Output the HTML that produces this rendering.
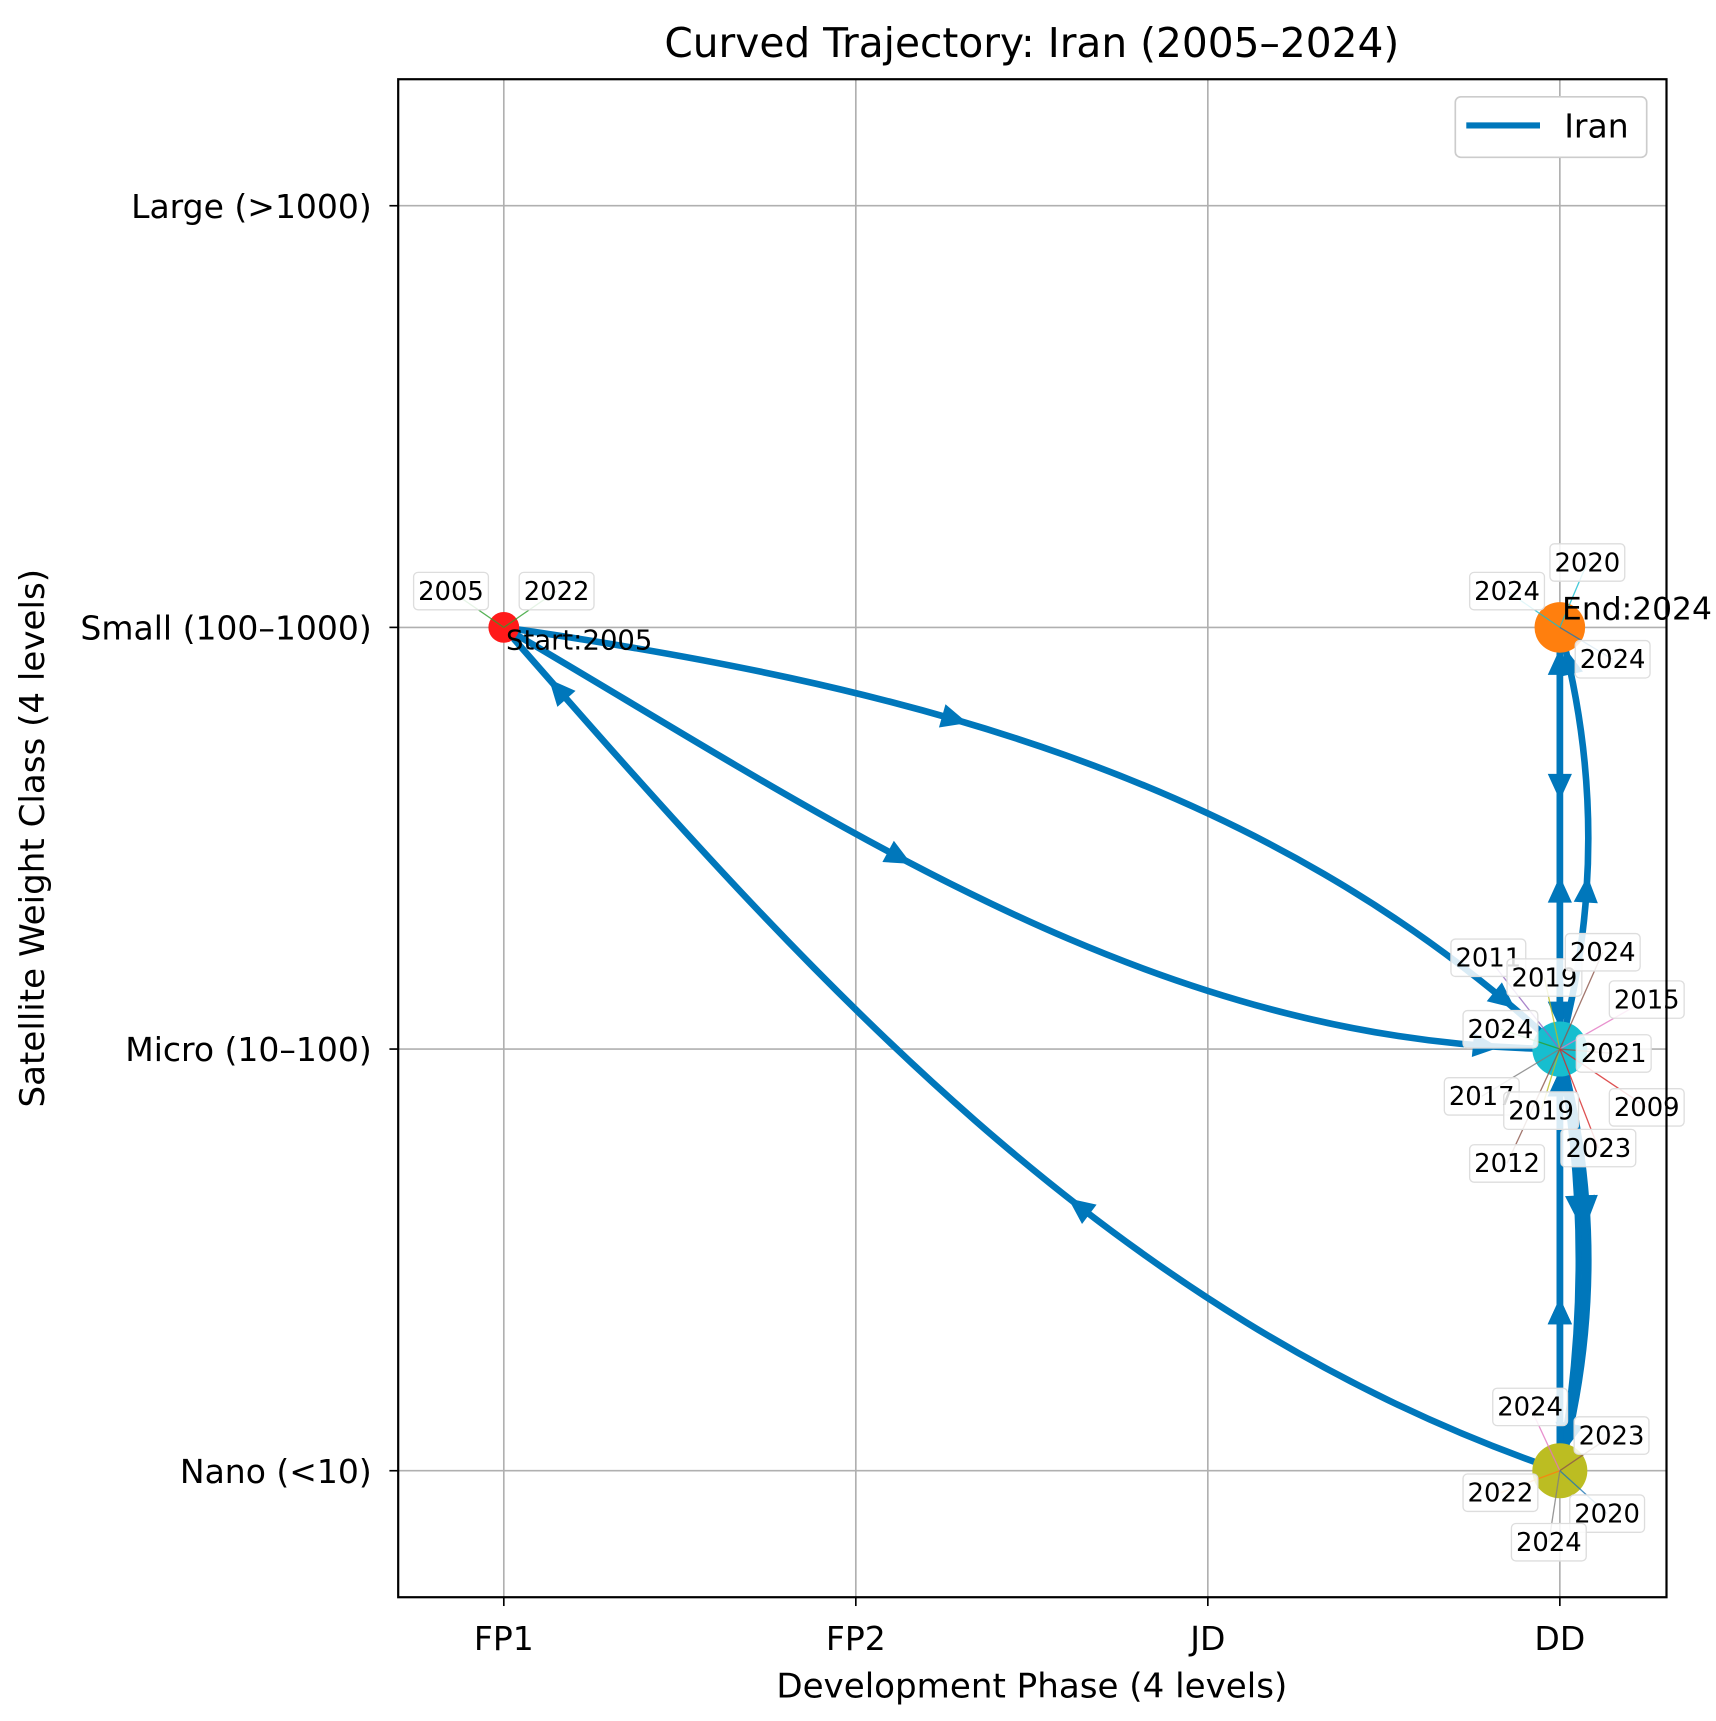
<!DOCTYPE html>
<html><head><meta charset="utf-8"><style>
html,body{margin:0;padding:0;background:#fff;}
svg{display:block;font-family:"DejaVu Sans","Liberation Sans",sans-serif;}
</style></head><body>
<svg id="chart" width="1716" height="1721" viewBox="0 0 1560 1564.5" xmlns="http://www.w3.org/2000/svg">
<rect width="1560" height="1564.5" fill="#fff"/>
<text x="938" y="52" font-size="37" text-anchor="middle">Curved Trajectory: Iran (2005–2024)</text>
<g id="grid"></g>
<g id="ticks"></g>
<g id="series"></g>
<g id="labels"></g>
<rect x="362" y="72" width="1153" height="1380" fill="none" stroke="#000" stroke-width="2"/>
<text x="938" y="1543" font-size="31" text-anchor="middle">Development Phase (4 levels)</text>
<text transform="translate(40,762) rotate(-90)" font-size="31" text-anchor="middle">Satellite Weight Class (4 levels)</text>
<g>
<rect x="1323" y="88" width="174" height="55" rx="5" fill="#fff" stroke="#ccc" stroke-width="1.5"/>
<line x1="1333" y1="114" x2="1400" y2="114" stroke="#0077bb" stroke-width="5.5"/>
<text x="1422" y="125" font-size="30">Iran</text>
</g>
</svg>
<script>
const xCategories = ["FP1","FP2","JD","DD"];
const yCategories = ["Nano (<10)","Micro (10–100)","Small (100–1000)","Large (>1000)"];
const years  = [2005,2009,2011,2012,2015,2017,2019,2020,2021,2022,2023,2023,2024,2024];
const phases = [0,3,3,3,3,3,3,3,3,0,3,3,3,3];
const weights= [2,1,2,1,0,1,0,1,0,2,1,0,1,2];
const bendStart= [0.08,-0.09,0,0.09,0,0.08,0,0.06,0.12,-0.05,0.08,0,0];
const bendEnd  = [0.13,-0.09,0,0.09,0,0.08,0,0.06,0.06,-0.13,0.08,0,0];
const annoText = ["2005","2022","2024","2020","2024","2011","2019","2024","2015","2024","2021","2017","2019","2009","2023","2012","2024","2023","2022","2020","2024"];
const annoPhase= [0,0,3,3,3,3,3,3,3,3,3,3,3,3,3,3,3,3,3,3,3];
const annoWeight=[2,2,2,2,2,1,1,1,1,1,1,1,1,1,1,1,0,0,0,0,0];
const annoDx = [-48,48,-48,25,48,-65,-14,39,79,-54,49,-71,-17,79,35,-48,-27,47,-54,43,-10];
const annoDy = [-33,-33,-33,-59,29,-83,-65,-88,-45,-18,4,43,56,53,90,104,-58,-32,20,39,65];
const annoColor=["#2ca02c","#2ca02c","#17becf","#17becf","#1f77b4","#9467bd","#bcbd22","#8c564b","#e377c2","#2ca02c","#8c564b","#7f7f7f","#bcbd22","#d62728","#d62728","#8c564b","#e377c2","#8c564b","#ff7f0e","#1f77b4","#7f7f7f"];

const NS="http://www.w3.org/2000/svg";
const X0=362,X1=1515,Y0=1452,Y1=72;
const xmin=-0.3,xmax=3.303,ymin=-0.3,ymax=3.3;
function X(v){return X0+(v-xmin)/(xmax-xmin)*(X1-X0);}
function Y(v){return Y0-(v-ymin)/(ymax-ymin)*(Y0-Y1);}
function mk(tag,attrs,parent){const e=document.createElementNS(NS,tag);for(const k in attrs)e.setAttribute(k,attrs[k]);parent.appendChild(e);return e;}
const grid=document.getElementById('grid'),ticks=document.getElementById('ticks');
xCategories.forEach((c,i)=>{
  const g=mk('line',{x1:X(i),x2:X(i),y1:Y1,y2:Y0,stroke:'#b0b0b0','stroke-width':1.5},grid);
  
  
  mk('line',{x1:X(i),x2:X(i),y1:Y0,y2:Y0+8,stroke:'#000','stroke-width':1.5},ticks);
  const t=mk('text',{x:X(i),y:Y0+48,'font-size':30,'text-anchor':'middle'},ticks);
  t.textContent=c;
  
  
});
yCategories.forEach((c,i)=>{
  const g=mk('line',{x1:X0,x2:X1,y1:Y(i),y2:Y(i),stroke:'#b0b0b0','stroke-width':1.5},grid);
  
  
  mk('line',{x1:X0-8,x2:X0,y1:Y(i),y2:Y(i),stroke:'#000','stroke-width':1.5},ticks);
  const t=mk('text',{x:X0-24,y:Y(i)+11,'font-size':30,'text-anchor':'end'},ticks);
  t.textContent=c;
  
  
});
const series=document.getElementById('series');
const COL="#0077bb";
function arrow(px,py,tx,ty){
  const L=Math.hypot(tx,ty)||1,ux=tx/L,uy=ty/L,s=24,w=11;
  const bx=px-ux*s,by=py-uy*s;
  const a=mk('polygon',{points:`${px},${py} ${bx-uy*w},${by+ux*w} ${bx+uy*w},${by-ux*w}`,fill:COL},series);
  
  
}
for(let i=0;i<years.length-1;i++){
  const x0=X(phases[i]),y0=Y(weights[i]),x3=X(phases[i+1]),y3=Y(weights[i+1]);
  const dx=x3-x0,dy=y3-y0;
  const c1x=x0+dx/3+bendStart[i]*dy,c1y=y0+dy/3-bendStart[i]*dx;
  const c2x=x0+2*dx/3+bendEnd[i]*dy,c2y=y0+2*dy/3-bendEnd[i]*dx;
  const p=mk('path',{d:`M${x0},${y0} C${c1x},${c1y} ${c2x},${c2y} ${x3},${y3}`,fill:'none',stroke:COL,'stroke-width':6,'stroke-linecap':'round'},series);
  
  
  [0.38,0.92].forEach(t=>{
    const u=1-t;
    const bx=u*u*u*x0+3*u*u*t*c1x+3*u*t*t*c2x+t*t*t*x3;
    const by=u*u*u*y0+3*u*u*t*c1y+3*u*t*t*c2y+t*t*t*y3;
    const tx=3*u*u*(c1x-x0)+6*u*t*(c2x-c1x)+3*t*t*(x3-c2x);
    const ty=3*u*u*(c1y-y0)+6*u*t*(c2y-c1y)+3*t*t*(y3-c2y);
    arrow(bx+tx*0.03,by+ty*0.03,tx,ty);
  });
}
const markerPhase=[3,3,3,0],markerWeight=[0,1,2,2],markerColor=["#bcbd22","#17becf","#ff7f0e","#ff1a1a"],markerR=[25,25,23,14];
const markerNames=["marker-nano-dd","marker-micro-dd","end-marker","start-marker"];
markerPhase.forEach((p,i)=>{
  const c=mk('circle',{cx:X(p),cy:Y(markerWeight[i]),r:markerR[i],fill:markerColor[i]},series);
  
  
});
const labels=document.getElementById('labels');
annoText.forEach((t,i)=>{
  const px=X(annoPhase[i]),py=Y(annoWeight[i]),lx=px+annoDx[i],ly=py+annoDy[i];
  const l=mk('line',{x1:px,y1:py,x2:lx,y2:ly,stroke:annoColor[i],'stroke-width':1.2,opacity:0.8},labels);
  
  
});
annoText.forEach((t,i)=>{
  const lx=X(annoPhase[i])+annoDx[i],ly=Y(annoWeight[i])+annoDy[i];
  const g=mk('g',{},labels);
  
  
  mk('rect',{x:lx-34,y:ly-17,width:68,height:34,rx:4,fill:'#fff','fill-opacity':0.85,stroke:'#ddd','stroke-width':1.2},g);
  const tx=mk('text',{x:lx,y:ly+8,'font-size':23.5,'text-anchor':'middle'},g);
  tx.textContent=t;
});
const st=mk('text',{x:X(0)+2,y:Y(2)+20,'font-size':25},labels);st.textContent="Start:2005";


const en=mk('text',{x:X(3)+2,y:Y(2)-7,'font-size':28.5},labels);en.textContent="End:2024";


</script>
</body></html>
